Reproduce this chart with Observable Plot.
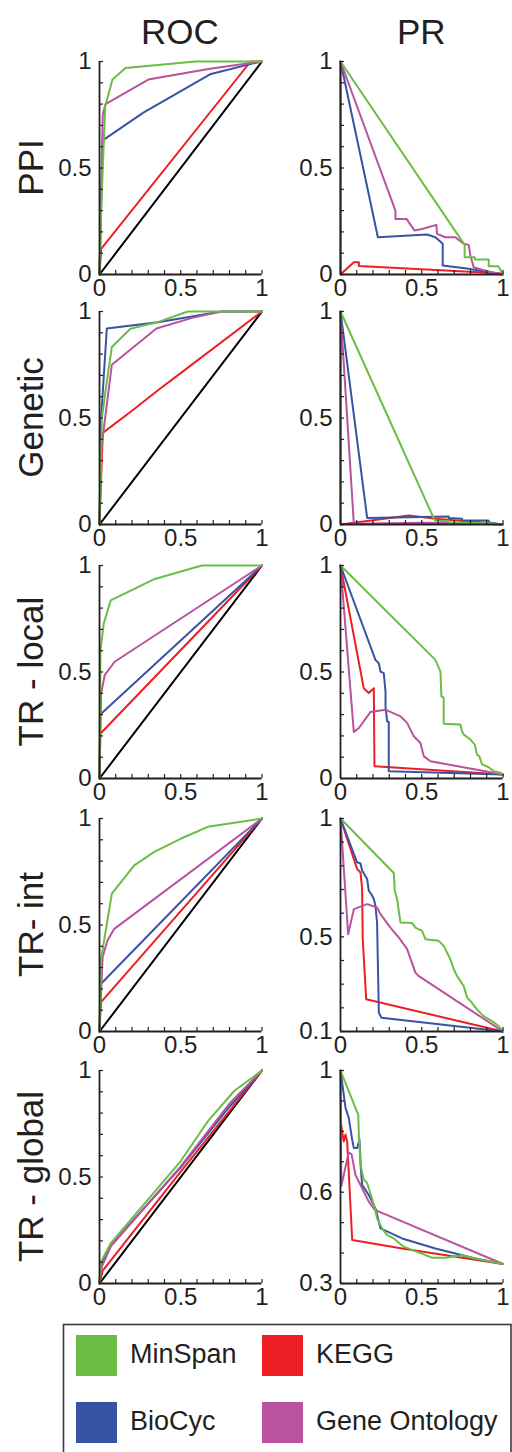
<!DOCTYPE html>
<html><head><meta charset="utf-8">
<script src="https://cdn.jsdelivr.net/npm/d3@7"></script>
<script src="https://cdn.jsdelivr.net/npm/@observablehq/plot@0.6"></script>
<style>
html,body{margin:0;padding:0;background:#fff;}
#root{position:relative;width:512px;height:1452px;overflow:hidden;font-family:"Liberation Sans",Arial,sans-serif;color:#231f20;background:#fff;}
</style></head><body><div id="root"></div>
<script>
// ---------- labels ----------
const columnTitles = ["ROC", "PR"];
const rowNames = ["PPI", "Genetic", "TR - local", "TR- int", "TR - global"];
const seriesNames = ["MinSpan", "BioCyc", "KEGG", "Gene Ontology"];
const seriesColors = ["#6cbd45", "#3853a4", "#ed1f24", "#b9529f"];
const xTickLabels = [0, 0.5, 1];
const rocYTickLabels = [0, 0.5, 1];
const prYTickLabels = [[0, 0.5, 1], [0, 0.5, 1], [0, 0.5, 1], [0.1, 0.5, 1], [0.3, 0.6, 1]];
const prYDomains = [[0, 1], [0, 1], [0, 1], [0.1, 1], [0.3, 1]];
const chance = [[0, 0], [1, 1]];

// ---------- PPI ----------
const rocPPI_MinSpan = [[0,0],[0.01,0.3],[0.035,0.79],[0.08,0.915],[0.16,0.97],[0.59,1],[1,1]];
const rocPPI_BioCyc = [[0,0],[0.02,0.63],[0.27,0.76],[0.68,0.94],[0.94,0.99],[1,1]];
const rocPPI_KEGG = [[0,0],[0.01,0.12],[0.93,1],[1,1]];
const rocPPI_GO = [[0,0],[0.02,0.75],[0.037,0.8],[0.3,0.915],[0.68,0.966],[1,1]];
const prPPI_MinSpan = [[0,1],[0.764,0.139],[0.764,0.081],[0.826,0.081],[0.826,0.07],[0.912,0.07],[0.912,0.039],[0.97,0.039],[1,0.003]];
const prPPI_BioCyc = [[0,1],[0.23,0.175],[0.533,0.188],[0.584,0.175],[0.629,0.144],[0.629,0.042],[0.789,0.027],[0.91,0.011],[1,0]];
const prPPI_KEGG = [[0,1],[0,0],[0.082,0.058],[0.113,0.058],[0.113,0.04],[1,0.005]];
const prPPI_GO = [[0,1],[0.338,0.3],[0.338,0.261],[0.406,0.261],[0.455,0.207],[0.502,0.214],[0.59,0.233],[0.594,0.191],[0.645,0.175],[0.707,0.175],[0.758,0.144],[0.789,0.139],[0.799,0.089],[0.82,0.034],[0.85,0.027],[0.912,0.014],[1,0]];

// ---------- Genetic ----------
const rocGen_MinSpan = [[0,0],[0.015,0.5],[0.04,0.645],[0.076,0.833],[0.19,0.919],[0.358,0.95],[0.544,1],[1,1]];
const rocGen_BioCyc = [[0,0],[0.01,0.5],[0.045,0.92],[0.36,0.95],[0.75,1],[1,1]];
const rocGen_KEGG = [[0,0],[0.02,0.43],[0.21,0.54],[0.36,0.63],[0.55,0.74],[1,1]];
const rocGen_GO = [[0,0],[0.01,0.35],[0.076,0.75],[0.35,0.92],[0.57,0.97],[0.75,1],[1,1]];
const prGen_MinSpan = [[0,1],[0.58,0.019],[0.666,0.015],[0.666,0.01],[0.91,0.006],[1,0]];
const prGen_BioCyc = [[0,1],[0.164,0.031],[0.666,0.038],[0.666,0.03],[0.748,0.027],[0.748,0.019],[0.91,0.019],[0.92,0.008],[1,0]];
const prGen_KEGG = [[0,1],[0,0],[0.42,0.042],[0.584,0.027],[0.85,0.011],[1,0]];
const prGen_GO = [[0,1],[0.082,0.004],[0.5,0.008],[0.75,0.006],[1,0]];

// ---------- TR - local ----------
const rocLoc_MinSpan = [[0,0],[0.006,0.6],[0.026,0.727],[0.069,0.836],[0.34,0.937],[0.63,1],[1,1]];
const rocLoc_BioCyc = [[0,0],[0.005,0.3],[1,1]];
const rocLoc_KEGG = [[0,0],[0.005,0.21],[1,1]];
const rocLoc_GO = [[0,0],[0.01,0.4],[0.032,0.485],[0.093,0.548],[1,1]];
const prLoc_MinSpan = [[0,1],[0.584,0.557],[0.615,0.502],[0.621,0.385],[0.635,0.38],[0.635,0.257],[0.738,0.253],[0.748,0.222],[0.758,0.206],[0.8,0.183],[0.826,0.159],[0.84,0.112],[0.854,0.105],[0.871,0.066],[0.912,0.053],[0.943,0.034],[0.984,0.027],[1,0.019]];
const prLoc_BioCyc = [[0,1],[0.215,0.557],[0.236,0.541],[0.246,0.502],[0.266,0.495],[0.277,0.409],[0.277,0.339],[0.287,0.268],[0.297,0.265],[0.297,0.034],[1,0.019]];
const prLoc_KEGG = [[0,1],[0.143,0.424],[0.174,0.401],[0.205,0.424],[0.209,0.058],[1,0.019]];
const prLoc_GO = [[0,1],[0.082,0.218],[0.113,0.237],[0.184,0.312],[0.277,0.323],[0.369,0.292],[0.41,0.261],[0.451,0.198],[0.492,0.167],[0.512,0.105],[0.553,0.081],[1,0.019]];

// ---------- TR- int ----------
const rocInt_MinSpan = [[0,0],[0.008,0.333],[0.076,0.647],[0.214,0.78],[0.337,0.843],[0.502,0.906],[0.667,0.961],[1,1]];
const rocInt_BioCyc = [[0,0],[0.008,0.223],[1,1]];
const rocInt_KEGG = [[0,0],[0.008,0.137],[1,1]];
const rocInt_GO = [[0,0],[0.019,0.349],[0.05,0.43],[0.091,0.482],[1,1]];
const prInt_MinSpan = [[0,1],[0.328,0.77],[0.334,0.695],[0.348,0.66],[0.369,0.561],[0.441,0.558],[0.461,0.539],[0.502,0.525],[0.523,0.49],[0.605,0.483],[0.635,0.462],[0.676,0.405],[0.697,0.363],[0.717,0.335],[0.758,0.292],[0.779,0.243],[0.799,0.229],[0.84,0.193],[0.881,0.165],[0.932,0.144],[0.973,0.123],[1,0.1]];
const prInt_BioCyc = [[0,1],[0.102,0.815],[0.123,0.81],[0.133,0.78],[0.164,0.744],[0.174,0.695],[0.19,0.68],[0.205,0.66],[0.215,0.631],[0.225,0.561],[0.236,0.179],[0.252,0.158],[1,0.1]];
const prInt_KEGG = [[0,1],[0.102,0.787],[0.123,0.772],[0.133,0.702],[0.137,0.49],[0.158,0.236],[1,0.1]];
const prInt_GO = [[0,1],[0.047,0.511],[0.082,0.617],[0.164,0.638],[0.225,0.624],[0.246,0.596],[0.307,0.539],[0.359,0.497],[0.41,0.448],[0.461,0.349],[0.48,0.335],[1,0.1]];

// ---------- TR - global ----------
const rocGlob_MinSpan = [[0,0],[0.008,0.1],[0.07,0.19],[0.26,0.36],[0.5,0.575],[0.67,0.765],[0.83,0.905],[1,1]];
const rocGlob_BioCyc = [[0,0],[0.01,0.09],[0.07,0.18],[0.5,0.545],[0.8,0.83],[1,1]];
const rocGlob_KEGG = [[0,0],[0.02,0.06],[0.5,0.525],[1,1]];
const rocGlob_GO = [[0,0],[0.015,0.08],[0.07,0.175],[0.5,0.55],[0.8,0.845],[1,1]];
const prGlob_MinSpan = [[0,1],[0.092,0.877],[0.109,0.855],[0.113,0.789],[0.123,0.69],[0.143,0.641],[0.164,0.63],[0.174,0.613],[0.19,0.586],[0.211,0.547],[0.225,0.514],[0.256,0.481],[0.287,0.459],[0.328,0.448],[0.389,0.421],[0.471,0.404],[0.563,0.385],[0.645,0.385],[0.748,0.393],[0.83,0.382],[1,0.364]];
const prGlob_BioCyc = [[0,1],[0.031,0.877],[0.051,0.844],[0.072,0.772],[0.082,0.745],[0.102,0.745],[0.117,0.772],[0.125,0.68],[0.133,0.624],[0.174,0.591],[0.215,0.547],[0.246,0.481],[0.379,0.448],[0.584,0.415],[0.83,0.382],[1,0.364]];
const prGlob_KEGG = [[0.005,0.82],[0.01,0.8],[0.02,0.767],[0.031,0.79],[0.041,0.767],[0.072,0.443],[0.379,0.415],[1,0.364]];
const prGlob_GO = [[0,1],[0.005,0.62],[0.05,0.73],[0.068,0.725],[0.092,0.657],[0.133,0.613],[0.174,0.569],[0.211,0.542],[1,0.364]];

// series order per panel: [MinSpan, BioCyc, KEGG, GO]
const rocPanels = [
  [rocPPI_MinSpan, rocPPI_BioCyc, rocPPI_KEGG, rocPPI_GO],
  [rocGen_MinSpan, rocGen_BioCyc, rocGen_KEGG, rocGen_GO],
  [rocLoc_MinSpan, rocLoc_BioCyc, rocLoc_KEGG, rocLoc_GO],
  [rocInt_MinSpan, rocInt_BioCyc, rocInt_KEGG, rocInt_GO],
  [rocGlob_MinSpan, rocGlob_BioCyc, rocGlob_KEGG, rocGlob_GO]
];
const prPanels = [
  [prPPI_MinSpan, prPPI_BioCyc, prPPI_KEGG, prPPI_GO],
  [prGen_MinSpan, prGen_BioCyc, prGen_KEGG, prGen_GO],
  [prLoc_MinSpan, prLoc_BioCyc, prLoc_KEGG, prLoc_GO],
  [prInt_MinSpan, prInt_BioCyc, prInt_KEGG, prInt_GO],
  [prGlob_MinSpan, prGlob_BioCyc, prGlob_KEGG, prGlob_GO]
];

// ---------- layout ----------
const ink = "#231f20";
const font = "'Liberation Sans', Arial, sans-serif";
const rowTop = [61, 311, 565, 818, 1070];
const colLeft = [98.7, 340];
const PW = 162.5, PH = 213;
const ML = 50, MR = 12, MT = 12, MB = 32;
const tickLen = 4; // px, inward minor ticks
const drawOrder = [2, 1, 3, 0]; // KEGG, BioCyc, GO, MinSpan on top

const root = document.getElementById("root");

function minorTicks(lo) {
  const out = [];
  for (let i = Math.round(lo * 10); i <= 10; i++) out.push(i / 10);
  return out;
}

function panel(curves, yDomain, yLabels, withChance, left, top) {
  const y0 = yDomain[0], ySpan = yDomain[1] - yDomain[0];
  const marks = [];
  if (withChance) marks.push(Plot.line(chance, {x: d => d[0], y: d => d[1], stroke: "#000", strokeWidth: 2}));
  for (const k of drawOrder) {
    marks.push(Plot.line(curves[k], {x: d => d[0], y: d => d[1], stroke: seriesColors[k], strokeWidth: 2}));
  }
  marks.push(
    // inward minor ticks
    Plot.ruleX(minorTicks(0), {y1: y0, y2: y0 + ySpan * tickLen / PH, stroke: ink, strokeWidth: 1.2}),
    Plot.ruleY(minorTicks(y0), {x1: 0, x2: tickLen / PW, stroke: ink, strokeWidth: 1.2}),
    // labels
    Plot.axisX(xTickLabels, {tickSize: 0, tickPadding: 4, fontSize: 24, fill: ink, tickFormat: d => String(d), label: null}),
    Plot.axisY(yLabels, {tickSize: 0, tickPadding: 8, fontSize: 24, fill: ink, tickFormat: d => String(d), label: null}),
    // axis lines
    Plot.ruleX([0], {stroke: ink, strokeWidth: 1.8}),
    Plot.ruleY([y0], {stroke: ink, strokeWidth: 1.8})
  );
  const svg = Plot.plot({
    width: ML + PW + MR, height: MT + PH + MB,
    marginLeft: ML, marginRight: MR, marginTop: MT, marginBottom: MB,
    x: {domain: [0, 1]}, y: {domain: yDomain},
    style: {background: "transparent", overflow: "visible", fontFamily: font, color: ink},
    marks
  });
  svg.style.position = "absolute";
  svg.style.left = (left - ML) + "px";
  svg.style.top = (top - MT) + "px";
  root.appendChild(svg);
}

for (let r = 0; r < 5; r++) {
  panel(rocPanels[r], [0, 1], rocYTickLabels, true, colLeft[0], rowTop[r]);
  panel(prPanels[r], prYDomains[r], prYTickLabels[r], false, colLeft[1], rowTop[r]);
}

// ---------- titles, row labels, legend ----------
const ov = d3.select(root).append("svg")
  .attr("width", 512).attr("height", 1452)
  .style("position", "absolute").style("left", "0px").style("top", "0px")
  .style("pointer-events", "none")
  .style("font-family", font);

columnTitles.forEach((t, i) => {
  ov.append("text").attr("x", colLeft[i] + PW / 2).attr("y", 43.5)
    .attr("text-anchor", "middle").attr("font-size", 35).attr("fill", ink).text(t);
});
rowNames.forEach((t, r) => {
  ov.append("text").attr("transform", `translate(43,${rowTop[r] + PH / 2}) rotate(-90)`)
    .attr("text-anchor", "middle").attr("font-size", 35).attr("fill", ink).text(t);
});

ov.append("rect").attr("x", 63.5).attr("y", 1324.5).attr("width", 447.5).attr("height", 200)
  .attr("fill", "none").attr("stroke", "#3a3a3a").attr("stroke-width", 1.6);
const legendPos = [[0, 0], [0, 1], [1, 0], [1, 1]]; // [col,row] for MinSpan, BioCyc, KEGG, GO
seriesNames.forEach((name, i) => {
  const [c, rr] = legendPos[i];
  const sx = c === 0 ? 76 : 262;
  const sy = rr === 0 ? 1335 : 1402;
  ov.append("rect").attr("x", sx).attr("y", sy).attr("width", 41).attr("height", 41).attr("fill", seriesColors[i]);
  ov.append("text").attr("x", sx + 54).attr("y", sy + 28).attr("font-size", 27).attr("fill", ink).text(name);
});
</script></body></html>
